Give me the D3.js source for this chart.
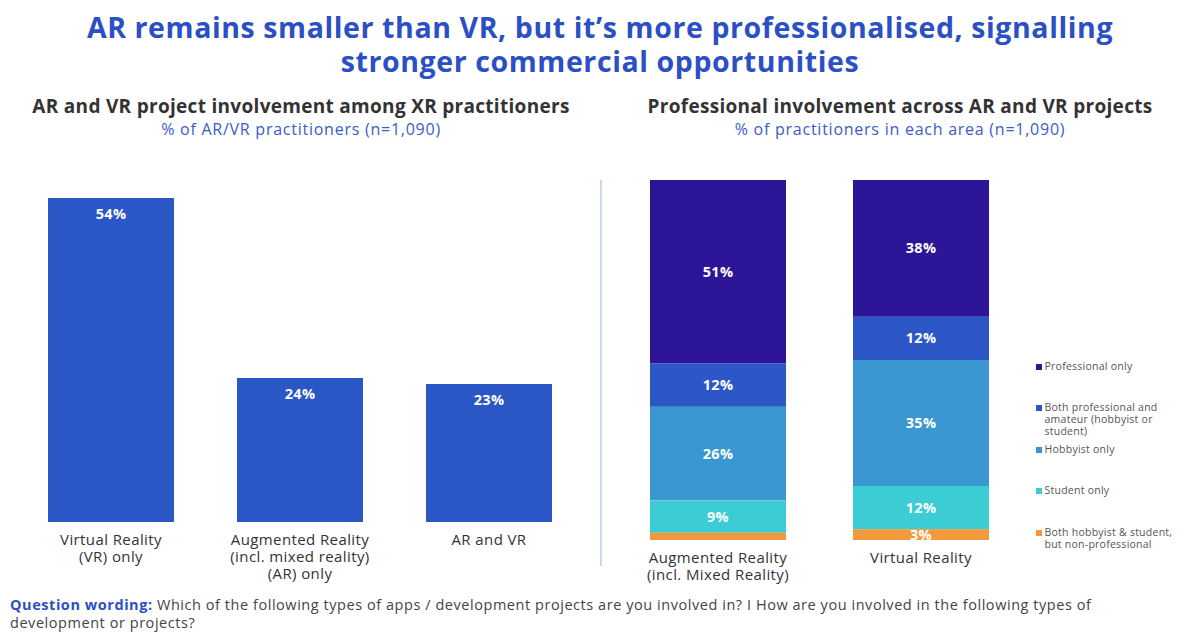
<!DOCTYPE html>
<html>
<head>
<meta charset="utf-8">
<script src="https://cdn.jsdelivr.net/npm/d3@7"></script>
<style>
  body { margin: 0; background: #fff; }
  svg { font-family: "Open Sans", "Noto Sans", sans-serif; }
</style>
</head>
<body>
<div id="chart"></div>
<script>
// left chart: share of practitioners involved in each kind of project
const projectTypes = [["Virtual Reality", "(VR) only"], ["Augmented Reality", "(incl. mixed reality)", "(AR) only"], ["AR and VR"]];
const projectShares = [54, 24, 23];

// right chart: involvement type within each area
const areas = [["Augmented Reality", "(incl. Mixed Reality)"], ["Virtual Reality"]];
const involvement = ["Professional only", "Both professional and amateur (hobbyist or student)", "Hobbyist only", "Student only", "Both hobbyist & student, but non-professional"];
const legendLines = [["Professional only"], ["Both professional and", "amateur (hobbyist or", "student)"], ["Hobbyist only"], ["Student only"], ["Both hobbyist & student,", "but non-professional"]];
const arShares = [51, 12, 26, 9, 2];
const vrShares = [38, 12, 35, 12, 3];
const involvementColors = ["#2c1697", "#2d57c6", "#3a97d1", "#3ccdd4", "#f2993b"];

const W = 1200, H = 640;
const svg = d3.select('#chart').append('svg').attr('width', W).attr('height', H);

// small helper: one text element per line
function lines(g, arr, x, y0, step, attrs) {
    arr.forEach((l, j) => {
        const t = g.append('text').attr('x', x).attr('y', y0 + j * step).text(l);
        Object.entries(attrs).forEach(([k, v]) => t.attr(k, v));
    });
}

// headline
const blue = '#2b4fc4';
lines(svg, ['AR remains smaller than VR, but it\u2019s more professionalised, signalling', 'stronger commercial opportunities'],
    600, 38, 34, { 'text-anchor': 'middle', fill: blue, 'font-weight': 700, 'font-size': 28.5, 'letter-spacing': 0.6 });

function panelTitle(cx, title, sub) {
    svg.append('text').attr('x', cx).attr('y', 113).attr('text-anchor', 'middle')
        .attr('fill', '#333').attr('font-weight', 700).attr('font-size', 19).attr('letter-spacing', 0.3).text(title);
    svg.append('text').attr('x', cx).attr('y', 135).attr('text-anchor', 'middle')
        .attr('fill', '#3a5cc9').attr('font-size', 16).attr('letter-spacing', 0.75).text(sub);
}
panelTitle(301, 'AR and VR project involvement among XR practitioners', '% of AR/VR practitioners (n=1,090)');
panelTitle(900, 'Professional involvement across AR and VR projects', '% of practitioners in each area (n=1,090)');

const labelAttrs = { 'text-anchor': 'middle', fill: '#333', 'font-size': 15, 'letter-spacing': 0.4 };

// ---- left: simple bars
const xL = d3.scaleBand().domain(d3.range(projectShares.length)).range([48, 552]).paddingInner(1 / 3).paddingOuter(0);
const yL = d3.scaleLinear().domain([0, 54]).range([522, 198]);
const gL = svg.append('g');
gL.selectAll('rect').data(projectShares).join('rect')
    .attr('x', (d, i) => xL(i)).attr('width', xL.bandwidth())
    .attr('y', d => yL(d)).attr('height', d => yL(0) - yL(d))
    .attr('fill', '#2b56c6');
gL.selectAll('text.val').data(projectShares).join('text').attr('class', 'val')
    .attr('x', (d, i) => xL(i) + xL.bandwidth() / 2).attr('y', d => yL(d) + 21)
    .attr('text-anchor', 'middle').attr('fill', '#fff').attr('font-weight', 700).attr('font-size', 14.5)
    .attr('letter-spacing', 0.3).text(d => d + '%');
projectTypes.forEach((arr, i) => lines(gL, arr, xL(i) + xL.bandwidth() / 2, 545, 17, labelAttrs));

// divider
svg.append('line').attr('x1', 601).attr('x2', 601).attr('y1', 180).attr('y2', 566)
    .attr('stroke', '#8fb0e3').attr('stroke-width', 1);

// ---- right: stacked bars, first series on top
const stackRows = [arShares, vrShares].map(s => Object.fromEntries(involvement.map((k, i) => [k, s[i]])));
const series = d3.stack().keys(involvement)(stackRows);
const xR = d3.scaleBand().domain(d3.range(areas.length)).range([650, 989]).paddingInner(0.33).paddingOuter(0);
const yR = d3.scaleLinear().domain([0, 100]).range([180, 540]);
const color = d3.scaleOrdinal().domain(involvement).range(involvementColors);
const gR = svg.append('g');
const layer = gR.selectAll('g.layer').data(series).join('g').attr('class', 'layer')
    .attr('fill', d => color(d.key));
layer.selectAll('rect').data(d => d).join('rect')
    .attr('x', (d, i) => xR(i)).attr('width', xR.bandwidth())
    .attr('y', d => yR(d[0])).attr('height', d => yR(d[1]) - yR(d[0]));
layer.selectAll('text').data(d => d.filter(p => p[1] - p[0] >= 3).map(p => ({ p, i: d.indexOf(p) }))).join('text')
    .attr('x', d => xR(d.i) + xR.bandwidth() / 2)
    .attr('y', d => (yR(d.p[0]) + yR(d.p[1])) / 2 + 5)
    .attr('text-anchor', 'middle').attr('fill', '#fff').attr('font-weight', 700).attr('font-size', 14.5)
    .attr('letter-spacing', 0.3).text(d => (d.p[1] - d.p[0]) + '%');
areas.forEach((arr, i) => lines(gR, arr, xR(i) + xR.bandwidth() / 2, 563, 17, labelAttrs));

// legend
const legendY = [370, 411, 453, 494, 536];
const lg = svg.append('g').attr('transform', 'translate(1036,0)');
involvement.forEach((k, i) => {
    lg.append('rect').attr('x', 0).attr('y', legendY[i] - 6).attr('width', 6).attr('height', 6).attr('fill', color(k));
    lines(lg, legendLines[i], 8.5, legendY[i], 12, { fill: '#555', 'font-size': 10.5, 'letter-spacing': 0.25 });
});

// footnote
const fn = svg.append('text').attr('x', 10).attr('y', 610).attr('font-size', 14.5).attr('letter-spacing', 0.55).attr('fill', '#444');
fn.append('tspan').attr('fill', blue).attr('font-weight', 700).text('Question wording:');
fn.append('tspan').text(' Which of the following types of apps / development projects are you involved in? I How are you involved in the following types of');
svg.append('text').attr('x', 10).attr('y', 628).attr('font-size', 14.5).attr('letter-spacing', 0.55).attr('fill', '#444').text('development or projects?');
</script>
</body>
</html>
